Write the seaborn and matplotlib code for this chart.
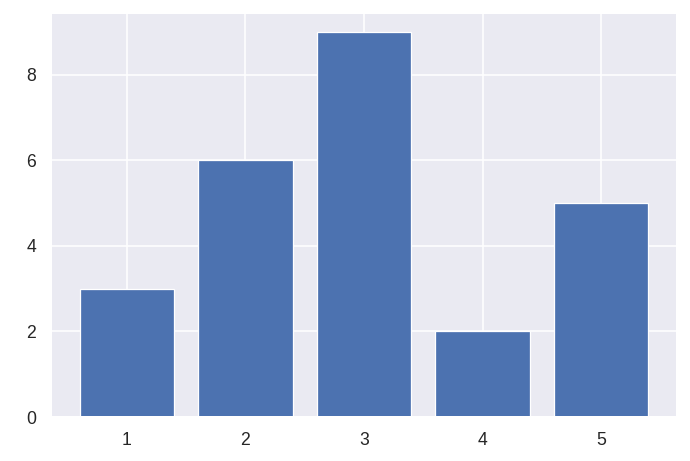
import matplotlib
matplotlib.use("Agg")
import matplotlib.pyplot as plt
import seaborn as sns
import pandas as pd

categories = [1, 2, 3, 4, 5]
values = [3, 6, 9, 2, 5]

sns.set_theme(style="darkgrid")
plt.rcParams['font.family'] = ['Liberation Sans', 'DejaVu Sans']

df = pd.DataFrame({"x": categories, "y": values})

fig, ax = plt.subplots(figsize=(6, 461 / 115), dpi=115)
fig.subplots_adjust(left=0.074, right=0.981, top=0.972, bottom=0.0954)
sns.barplot(data=df, x="x", y="y", native_scale=True, color="#4c72b0",
            saturation=1, width=0.8, ax=ax, edgecolor="white", linewidth=0.8)
ax.set_xlim(0.36, 5.64)
ax.set_ylim(0, 9.45)
ax.set_xticks(categories)
ax.set_xticklabels([str(c) for c in categories])
ax.set_yticks([0, 2, 4, 6, 8])
ax.set_xlabel("")
ax.set_ylabel("")
fig.savefig("out.png", dpi=115)
